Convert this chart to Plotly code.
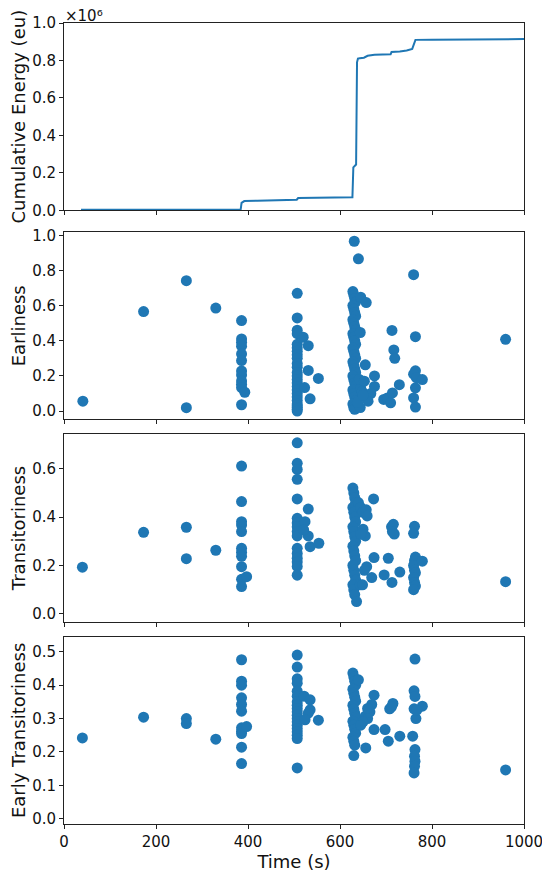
import plotly.graph_objects as go
from plotly.subplots import make_subplots

# cumulative energy (x1e6)
energy_t = [37, 384, 386, 392, 420, 480, 506, 509, 560, 627, 629, 631, 635, 637, 639, 643, 652, 660, 675, 710, 712, 730, 745, 757, 760, 764, 800, 900, 1000]
energy_v = [0.003, 0.003, 0.04, 0.05, 0.052, 0.055, 0.057, 0.066, 0.068, 0.07, 0.23, 0.235, 0.245, 0.79, 0.81, 0.812, 0.815, 0.825, 0.83, 0.833, 0.845, 0.848, 0.853, 0.862, 0.88, 0.91, 0.911, 0.912, 0.914]

# earliness
earl_t = [41, 173, 266, 266, 330, 960,
          386, 386, 386, 386, 386, 386, 386, 386, 386, 386, 386, 386, 393,
          507, 507, 507, 507, 507, 507, 507, 507, 507, 507, 507, 507, 507, 507, 507, 507, 507, 507, 507, 507, 507, 507, 507, 507, 507,
          520, 531, 531, 553, 523, 535,
          628, 630, 632, 634, 628, 630, 632, 634, 628, 630, 632, 634, 628, 630, 632, 634, 628, 630, 632, 634, 628, 630, 632, 634,
          628, 630, 632, 634, 628, 630, 632, 634, 628, 630, 632,
          631, 640, 645, 657, 644, 655, 675, 675, 667, 657, 645, 642, 653, 661, 644, 648, 638, 650,
          695, 703, 710, 714, 729, 713, 717, 719,
          760, 764, 764, 760, 766, 779, 764, 760, 764]
earl_v = [0.056, 0.566, 0.742, 0.019, 0.586, 0.408,
          0.515, 0.41, 0.391, 0.369, 0.325, 0.287, 0.228, 0.205, 0.171, 0.152, 0.134, 0.036, 0.107,
          0.67, 0.53, 0.46, 0.44, 0.38, 0.36, 0.34, 0.32, 0.30, 0.27, 0.25, 0.22, 0.2, 0.18, 0.16, 0.14, 0.12, 0.1, 0.08, 0.06, 0.04, 0.03, 0.02, 0.01, 0.0,
          0.42, 0.372, 0.231, 0.186, 0.134, 0.07,
          0.68, 0.66, 0.64, 0.62, 0.6, 0.58, 0.56, 0.54, 0.52, 0.5, 0.48, 0.46, 0.44, 0.42, 0.4, 0.38, 0.36, 0.34, 0.32, 0.3, 0.28, 0.26, 0.24, 0.22,
          0.2, 0.18, 0.16, 0.14, 0.12, 0.1, 0.08, 0.06, 0.04, 0.02, 0.01,
          0.966, 0.866, 0.648, 0.617, 0.447, 0.263, 0.2, 0.14, 0.1, 0.075, 0.13, 0.18, 0.17, 0.056, 0.02, 0.11, 0.05, 0.09,
          0.066, 0.075, 0.047, 0.103, 0.15, 0.459, 0.348, 0.3,
          0.776, 0.423, 0.229, 0.21, 0.19, 0.179, 0.132, 0.075, 0.023]

# transitoriness
trans_t = [40, 173, 266, 266, 330, 960,
           386, 386, 386, 386, 386, 386, 386, 386, 386, 386, 386, 397,
           507, 507, 507, 507, 507, 507, 507, 507, 507, 507, 507, 507, 507, 507, 507, 507,
           531, 524, 531, 535, 554, 521,
           628, 630, 632, 634, 628, 630, 632, 634, 628, 630, 632, 634, 628, 630, 632, 634, 628, 630, 632, 634, 628, 630, 632, 636,
           640, 645, 650, 657, 659, 673, 655, 650, 645, 674, 658, 653, 669, 644, 649,
           696, 705, 713, 730, 712, 716, 714, 718,
           762, 760, 764, 762, 760, 762, 764, 760, 762, 764, 760, 779]
trans_v = [0.193, 0.337, 0.358, 0.228, 0.263, 0.133,
           0.611, 0.464, 0.381, 0.367, 0.34, 0.271, 0.255, 0.238, 0.195, 0.143, 0.113, 0.154,
           0.707, 0.622, 0.597, 0.556, 0.475, 0.395, 0.376, 0.36, 0.34, 0.322, 0.271, 0.25, 0.23, 0.215, 0.196, 0.16,
           0.433, 0.381, 0.322, 0.278, 0.292, 0.347,
           0.52, 0.5, 0.48, 0.46, 0.44, 0.42, 0.4, 0.38, 0.36, 0.34, 0.32, 0.3, 0.28, 0.26, 0.24, 0.22, 0.2, 0.18, 0.16, 0.14, 0.12, 0.1, 0.08, 0.051,
           0.46, 0.44, 0.42, 0.43, 0.405, 0.475, 0.322, 0.35, 0.33, 0.233, 0.195, 0.18, 0.15, 0.12, 0.12,
           0.161, 0.23, 0.13, 0.173, 0.36, 0.37, 0.34, 0.33,
           0.362, 0.333, 0.235, 0.22, 0.2, 0.18, 0.17, 0.15, 0.13, 0.115, 0.1, 0.218]

# early transitoriness
early_t = [40, 173, 266, 266, 330, 960,
           386, 386, 386, 386, 386, 386, 386, 386, 386, 386, 386, 397,
           507, 507, 507, 507, 507, 507, 507, 507, 507, 507, 507, 507, 507, 507, 507, 507, 507, 507, 507,
           522, 535, 535, 531, 524, 553,
           628, 630, 632, 634, 628, 630, 632, 634, 628, 630, 632, 634, 628, 630, 632, 634, 628, 630, 632, 630,
           640, 674, 669, 655, 660, 650, 645, 674, 656, 665, 660,
           698, 705, 708, 715, 712, 730,
           763, 761, 763, 761, 765, 758, 763, 762, 763, 762, 761, 779, 767]
early_v = [0.242, 0.304, 0.3, 0.285, 0.238, 0.146,
           0.476, 0.412, 0.4, 0.362, 0.342, 0.322, 0.272, 0.262, 0.255, 0.214, 0.165, 0.276,
           0.49, 0.454, 0.419, 0.406, 0.382, 0.367, 0.35, 0.34, 0.33, 0.32, 0.31, 0.3, 0.29, 0.28, 0.27, 0.26, 0.25, 0.24, 0.152,
           0.367, 0.356, 0.326, 0.316, 0.296, 0.295,
           0.436, 0.424, 0.412, 0.4, 0.388, 0.376, 0.364, 0.352, 0.34, 0.328, 0.316, 0.304, 0.292, 0.28, 0.268, 0.256, 0.244, 0.232, 0.22, 0.189,
           0.416, 0.37, 0.342, 0.307, 0.3, 0.29, 0.28, 0.267, 0.212, 0.32, 0.33,
           0.267, 0.232, 0.329, 0.345, 0.335, 0.247,
           0.478, 0.383, 0.366, 0.329, 0.3, 0.247, 0.207, 0.187, 0.172, 0.157, 0.137, 0.337, 0.325]

blue = "#1f77b4"
fig = make_subplots(rows=4, cols=1, shared_xaxes=True)

fig.add_trace(go.Scatter(x=energy_t, y=[v * 1e6 for v in energy_v], mode="lines",
                         line=dict(color=blue, width=2)), row=1, col=1)
for i, (xs, ys) in enumerate([(earl_t, earl_v), (trans_t, trans_v), (early_t, early_v)]):
    fig.add_trace(go.Scatter(x=xs, y=ys, mode="markers",
                             marker=dict(color=blue, size=11)), row=i + 2, col=1)

axis_style = dict(showline=True, mirror=True, linecolor="#222", linewidth=1, ticks="outside",
                  ticklen=4, tickcolor="#222", showgrid=False, zeroline=False, automargin=False,
                  tickfont=dict(size=15, color="#111"))

# page body adds ~8px offset, so the figure is a bit smaller than the window
domains = [[0.766, 1.0], [0.5052, 0.7387], [0.2526, 0.4865], [0.0, 0.2338]]
titles = ["Cumulative Energy (eu)", "Earliness", "Transitoriness", "Early Transitoriness"]
ranges = [[0, 1e6], [-0.047, 1.017], [-0.032, 0.742], [-0.016, 0.545]]
dticks = [None, 0.2, 0.2, 0.1]

for i in range(4):
    ya = dict(domain=domains[i], range=ranges[i],
              title=dict(text=titles[i], font=dict(size=18, color="#111"), standoff=6),
              **axis_style)
    if i == 0:
        ya.update(tickvals=[0, 2e5, 4e5, 6e5, 8e5, 1e6], ticktext=["0.0", "0.2", "0.4", "0.6", "0.8", "1.0"])
    else:
        ya.update(dtick=dticks[i], tick0=0, tickformat=".1f")
    fig.update_yaxes(ya, row=i + 1, col=1)
    fig.update_xaxes(range=[0, 1000], dtick=200, tick0=0, **axis_style, row=i + 1, col=1)

fig.update_xaxes(title=dict(text="Time (s)", font=dict(size=18, color="#111"), standoff=4), row=4, col=1)

# offset label of the top axis
fig.add_annotation(text="×10⁶", xref="paper", yref="paper", x=0, y=1.0,
                   xanchor="left", yanchor="bottom", yshift=-3, borderpad=0,
                   showarrow=False, font=dict(size=15, color="#111"))

fig.update_layout(width=542, height=871, showlegend=False,
                  plot_bgcolor="white", paper_bgcolor="white",
                  font=dict(family="DejaVu Sans"),
                  margin=dict(l=56, r=26, t=15, b=55))

fig.write_html("out.html")
